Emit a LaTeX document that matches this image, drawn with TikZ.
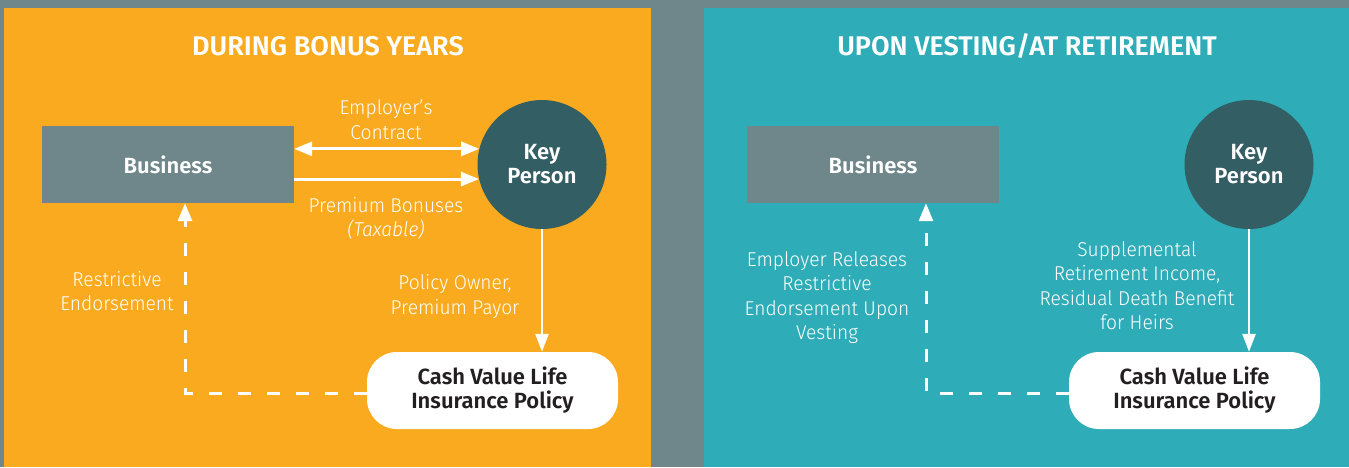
\documentclass[tikz,border=0pt]{standalone}
\usepackage{fontspec}
\usetikzlibrary{arrows.meta,calc}
\setmainfont{Fira Sans}
\newfontfamily\headfont{Fira Sans SemiBold}
\newfontfamily\boxfont{Fira Sans SemiBold}
\newfontfamily\lightfont[FakeStretch=0.96]{Fira Sans Light}
\definecolor{slate}{HTML}{6F878A}
\definecolor{amber}{HTML}{F9AA1F}
\definecolor{lagoon}{HTML}{2EACB8}
\definecolor{deepteal}{HTML}{335E63}
\definecolor{ink}{HTML}{231F20}
\tikzset{
  paneltitle/.style={text=white, font=\headfont\fontsize{27}{30}\selectfont},
  bizbox/.style={fill=slate, minimum width=252pt, minimum height=77pt, inner sep=0pt,
    text=white, font=\boxfont\fontsize{22}{24}\selectfont},
  keyperson/.style={circle, fill=deepteal, minimum size=129pt, inner sep=0pt, align=center,
    text=white, font=\boxfont\fontsize{22}{24}\selectfont},
  policybox/.style={fill=white, rounded corners=30pt, minimum width=251pt, minimum height=77pt,
    inner sep=0pt, align=center, text=ink, font=\boxfont\fontsize{22}{24}\selectfont},
  flowlabel/.style={text=white, align=center, inner sep=0pt,
    font=\lightfont\fontsize{20}{24.5}\selectfont},
  flow/.style={draw=white, line width=3pt, -{Triangle[length=18pt,width=14pt]}},
  twoway/.style={draw=white, line width=3pt, {Triangle[length=18pt,width=14pt]}-{Triangle[length=18pt,width=14pt]}},
  downflow/.style={draw=white, line width=2.6pt, -{Triangle[length=18pt,width=13pt]}},
  release/.style={draw=white, line width=3pt, dash pattern=on 13pt off 16pt,
    -{Triangle[length=18pt,width=14pt]}},
}
\begin{document}
\begin{tikzpicture}[x=1pt,y=-1pt]
\useasboundingbox (0,0) rectangle (1349,467);
% backdrop and the two panels
\fill[slate] (0,0) rectangle (1349,467);
\fill[amber] (4,8) rectangle (651,467);
\fill[lagoon] (704,8) rectangle (1349,467);

% ---- left panel: during bonus years ----
\node[paneltitle] (t1) at (328,46) {DURING BONUS YEARS};
\node[bizbox] (b1) at (168,164.5) {Business};
\node[keyperson] (k1) at (542,164.5) {Key\\Person};
\node[policybox] (c1) at (492.5,390.5) {Cash Value Life\\Insurance Policy};

\draw[twoway] (b1.east |- k1.166) -- (k1.166);
\draw[flow] (b1.east |- k1.193) -- (k1.193);
\draw[downflow] (k1.south) -- (k1.south |- c1.north);
\draw[release] ([yshift=-2.5pt]c1.west) -| ([xshift=17pt]b1.south);

\node[flowlabel] (l1) at (386,119.5) {Employer’s\\Contract};
\node[flowlabel] (l2) at (386,218.5) {Premium Bonuses\\\textit{(Taxable)}};
\node[flowlabel] (l3) at (117,291) {Restrictive\\Endorsement};
\node[flowlabel] (l4) at (455,296.5) {Policy Owner,\\Premium Payor};

% ---- right panel: upon vesting / at retirement ----
\node[paneltitle] (t2) at (1027,46) {UPON VESTING/AT RETIREMENT};
\node[bizbox] (b2) at (873,164.5) {Business};
\node[keyperson] (k2) at (1249,164.5) {Key\\Person};
\node[policybox] (c2) at (1194.5,390.5) {Cash Value Life\\Insurance Policy};

\draw[downflow] (k2.south) -- (k2.south |- c2.north);
\draw[release] ([yshift=-2.5pt]c2.west) -| ([xshift=53pt]b2.south);

\node[flowlabel] (r1) at (827,297.5) {Employer Releases\\Restrictive\\Endorsement Upon\\Vesting};
\node[flowlabel] (r2) at (1137,285.5) {Supplemental\\Retirement Income,\\Residual Death Benefit\\for Heirs};
\end{tikzpicture}
\end{document}
